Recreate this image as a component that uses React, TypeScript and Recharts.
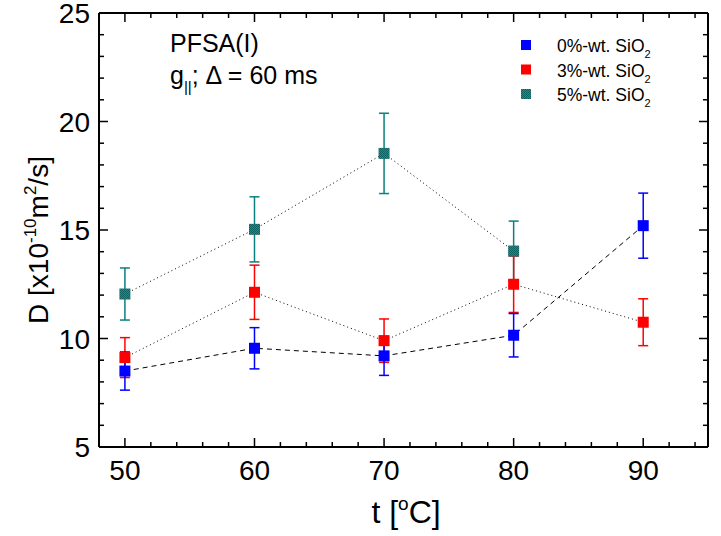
import React from "react";
import { ComposedChart, Scatter, XAxis, YAxis, ErrorBar } from "recharts";

// temperatures (°C)
const temps = [50, 60, 70, 80, 90];

// D values [x10^-10 m^2/s] and their errors
const d0 = [8.5, 9.55, 9.2, 10.15, 15.2];
const e0 = [0.88, 0.95, 0.9, 1.0, 1.5];
const d3 = [9.12, 12.13, 9.9, 12.5, 10.75];
const e3 = [0.92, 1.25, 1.0, 1.3, 1.08];
const d5 = [12.05, 15.03, 18.53, 14.03];
const e5 = [1.2, 1.5, 1.85, 1.38];

const xTicks = [50, 52, 54, 56, 58, 60, 62, 64, 66, 68, 70, 72, 74, 76, 78, 80, 82, 84, 86, 88, 90, 92, 94];
const xLabels = [50, 60, 70, 80, 90];
const yTicks = [5, 6, 7, 8, 9, 10, 11, 12, 13, 14, 15, 16, 17, 18, 19, 20, 21, 22, 23, 24, 25];
const yLabels = [5, 10, 15, 20, 25];

const FONT = "'Liberation Sans', Arial, sans-serif";
const TEAL = "#0a8080";

const toRows = (vals: number[], errs: number[]) =>
  vals.map((y, i) => ({ x: temps[i], y, err: errs[i] }));

const Square = (color: string) => (p: any) => (
  <rect x={p.cx - 5.5} y={p.cy - 5.5} width={11} height={11} fill={color} />
);

const Checker = ({ id }: { id: string }) => (
  <pattern id={id} width="2" height="2" patternUnits="userSpaceOnUse">
    <rect width="2" height="2" fill="#0c9494" />
    <rect width="1" height="1" fill="#0d6262" />
    <rect x="1" y="1" width="1" height="1" fill="#0d6262" />
  </pattern>
);

const TealSquare = (p: any) => (
  <g>
    <defs>
      <Checker id="tealchk" />
    </defs>
    <rect x={p.cx - 5.5} y={p.cy - 5.5} width={11} height={11} fill="url(#tealchk)" />
  </g>
);

const BottomTick = (p: any) => {
  const v = p.payload.value;
  const major = xLabels.includes(v);
  return (
    <g>
      <line x1={p.x} x2={p.x} y1={p.y} y2={p.y - (major ? 9 : 5)} stroke="#000" strokeWidth={1.5} />
      {major && (
        <text x={p.x} y={p.y + 33} textAnchor="middle" fontSize={28} fontFamily={FONT} fill="#000">
          {v}
        </text>
      )}
    </g>
  );
};

const TopTick = (p: any) => {
  const major = xLabels.includes(p.payload.value);
  return <line x1={p.x} x2={p.x} y1={p.y} y2={p.y + (major ? 9 : 5)} stroke="#000" strokeWidth={1.5} />;
};

const LeftTick = (p: any) => {
  const v = p.payload.value;
  const major = yLabels.includes(v);
  return (
    <g>
      <line x1={p.x} x2={p.x + (major ? 9 : 5)} y1={p.y} y2={p.y} stroke="#000" strokeWidth={1.5} />
      {major && (
        <text x={p.x - 9} y={p.y + 10} textAnchor="end" fontSize={28} fontFamily={FONT} fill="#000">
          {v}
        </text>
      )}
    </g>
  );
};

const RightTick = (p: any) => {
  const major = yLabels.includes(p.payload.value);
  return <line x1={p.x} x2={p.x - (major ? 9 : 5)} y1={p.y} y2={p.y} stroke="#000" strokeWidth={1.5} />;
};

const legendRows = [
  { label: "0%-wt. SiO", color: "#0000ff" },
  { label: "3%-wt. SiO", color: "#ff0000" },
  { label: "5%-wt. SiO", color: "url(#tealchk2)" },
];

export default function App() {
  const s0 = toRows(d0, e0);
  const s3 = toRows(d3, e3);
  const s5 = toRows(d5, e5);

  return (
    <div style={{ position: "fixed", left: 0, top: 0, width: 721, height: 536, background: "#fff" }}>
      <ComposedChart width={721} height={536} margin={{ top: 12, right: 12, bottom: 29, left: 0 }}>
        <XAxis
          xAxisId={0}
          type="number"
          dataKey="x"
          domain={[48, 95]}
          allowDataOverflow
          ticks={xTicks}
          interval={0}
          height={60}
          tickSize={0}
          tickMargin={0}
          tickLine={false}
          axisLine={{ stroke: "#000", strokeWidth: 2 }}
          tick={<BottomTick />}
        />
        <XAxis
          xAxisId="top"
          orientation="top"
          type="number"
          dataKey="x"
          domain={[48, 95]}
          allowDataOverflow
          ticks={xTicks}
          interval={0}
          height={1}
          tickSize={0}
          tickMargin={0}
          tickLine={false}
          axisLine={{ stroke: "#000", strokeWidth: 2 }}
          tick={<TopTick />}
        />
        <YAxis
          yAxisId={0}
          type="number"
          domain={[5, 25]}
          allowDataOverflow
          ticks={yTicks}
          interval={0}
          width={99}
          tickSize={0}
          tickMargin={0}
          tickLine={false}
          axisLine={{ stroke: "#000", strokeWidth: 2 }}
          tick={<LeftTick />}
        />
        <YAxis
          yAxisId="right"
          orientation="right"
          type="number"
          domain={[5, 25]}
          allowDataOverflow
          ticks={yTicks}
          interval={0}
          width={1}
          tickSize={0}
          tickMargin={0}
          tickLine={false}
          axisLine={{ stroke: "#000", strokeWidth: 2 }}
          tick={<RightTick />}
        />
        <Scatter
          data={s5}
          dataKey="y"
          isAnimationActive={false}
          line={{ stroke: "#000", strokeWidth: 1, strokeDasharray: "1 3" }}
          shape={TealSquare}
        >
          <ErrorBar dataKey="err" direction="y" width={5} stroke={TEAL} strokeWidth={1.5} />
        </Scatter>
        <Scatter
          data={s3}
          dataKey="y"
          isAnimationActive={false}
          line={{ stroke: "#000", strokeWidth: 1, strokeDasharray: "1 3" }}
          shape={Square("#ff0000")}
        >
          <ErrorBar dataKey="err" direction="y" width={5} stroke="#ff0000" strokeWidth={1.5} />
        </Scatter>
        <Scatter
          data={s0}
          dataKey="y"
          isAnimationActive={false}
          line={{ stroke: "#000", strokeWidth: 1, strokeDasharray: "5 4" }}
          shape={Square("#0000ff")}
        >
          <ErrorBar dataKey="err" direction="y" width={5} stroke="#0000ff" strokeWidth={1.5} />
        </Scatter>
      </ComposedChart>

      <svg
        width={721}
        height={536}
        style={{ position: "absolute", left: 0, top: 0, pointerEvents: "none" }}
        fontFamily={FONT}
      >
        <defs>
          <Checker id="tealchk2" />
        </defs>

        {/* annotation */}
        <text x={170} y={52} fontSize={25} fill="#000">PFSA(I)</text>
        <text x={170} y={84} fontSize={25} fill="#000">
          g
          <tspan fontSize={15} dy={8}>||</tspan>
          <tspan dy={-8}>; Δ = 60 ms</tspan>
        </text>

        {/* legend */}
        {legendRows.map((r, i) => (
          <g key={r.label}>
            <rect x={521} y={40 + i * 24.5} width={10} height={10} fill={r.color} />
            <text x={557} y={52 + i * 24.5} fontSize={17.5} fill="#000">
              {r.label}
              <tspan fontSize={11} dy={6}>2</tspan>
            </text>
          </g>
        ))}

        {/* axis titles */}
        <text x={406} y={523} textAnchor="middle" fontSize={32} fill="#000">
          t [<tspan fontSize={19} dy={-13}>o</tspan>
          <tspan dy={13}>C]</tspan>
        </text>
        <text
          x={0}
          y={0}
          transform="translate(48,240) rotate(-90)"
          textAnchor="middle"
          fontSize={28}
          fill="#000"
        >
          D [x10<tspan fontSize={17} dy={-12}>-10</tspan>
          <tspan dy={12}>m</tspan>
          <tspan fontSize={17} dy={-12}>2</tspan>
          <tspan dy={12}>/s]</tspan>
        </text>
      </svg>
    </div>
  );
}
